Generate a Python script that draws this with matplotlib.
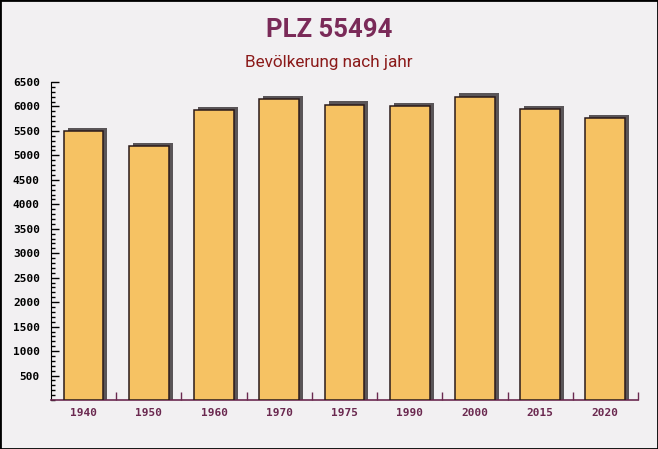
import numpy as np
import matplotlib.pyplot as plt
from matplotlib.ticker import MultipleLocator, FixedLocator

# Bevölkerung nach Jahr, PLZ 55494
years = ['1940', '1950', '1960', '1970', '1975', '1990', '2000', '2015', '2020']
population = [5490, 5190, 5920, 6150, 6030, 6000, 6200, 5940, 5760]

bg = '#F2F0F2'
bar_color = '#F6C263'
shadow_color = '#5a5558'
title_color = '#7A2A58'
subtitle_color = '#8B1A1A'
xlabel_color = '#6B2950'

fig = plt.figure(figsize=(6.58, 4.49), dpi=100, facecolor=bg)
ax = fig.add_axes([0.0775, 0.109, 0.892, 0.7085])
ax.set_facecolor(bg)

x = np.arange(len(years))
width = 0.61
# offsets for the pseudo-3d shadow (about 3-4 px)
dx = 4 / 65.2
dy = 3.5 / 0.04895

ax.bar(x + dx, population, width=width, color=shadow_color, zorder=2,
       linewidth=0)
ax.bar(x + dx, [dy] * len(x), width=width, bottom=population,
       color=shadow_color, zorder=2, linewidth=0)
ax.bar(x, population, width=width, color=bar_color, edgecolor='#2b1a1a',
       linewidth=1.1, zorder=3)

ax.set_xlim(-0.5, len(years) - 0.5)
ax.set_ylim(0, 6500)

ax.set_yticks(np.arange(500, 6501, 500))
ax.yaxis.set_minor_locator(MultipleLocator(100))
ax.set_yticklabels([str(v) for v in range(500, 6501, 500)],
                   family='DejaVu Sans Mono', fontweight='bold', fontsize=8)
ax.tick_params(axis='y', which='major', direction='in', length=6, width=1,
               color='black', pad=8)
ax.tick_params(axis='y', which='minor', direction='in', length=3, width=1,
               color='black')

ax.set_xticks(x)
ax.set_xticklabels(years, family='DejaVu Sans Mono', fontweight='bold',
                   fontsize=8, color=xlabel_color)
ax.xaxis.set_minor_locator(FixedLocator(x + 0.5))
ax.tick_params(axis='x', which='major', length=0, pad=6)
ax.tick_params(axis='x', which='minor', direction='in', length=6, width=1,
               color=xlabel_color)

for side in ['top', 'right']:
    ax.spines[side].set_visible(False)
ax.spines['left'].set_color('black')
ax.spines['bottom'].set_color(xlabel_color)
ax.spines['bottom'].set_linewidth(1.2)

fig.text(0.5, 0.933, 'PLZ 55494', ha='center', va='center', fontsize=18.5,
         fontweight='bold', color=title_color, family='Roboto')
fig.text(0.5, 0.861, 'Bevölkerung nach jahr', ha='center', va='center',
         fontsize=12.3, color=subtitle_color, family='Roboto')

# thin dark frame round the picture
fig.patches.append(plt.Rectangle((0, 0), 1, 1, transform=fig.transFigure,
                                 fill=False, edgecolor='black', linewidth=2))

fig.savefig('out.png', dpi=100, facecolor=bg)
